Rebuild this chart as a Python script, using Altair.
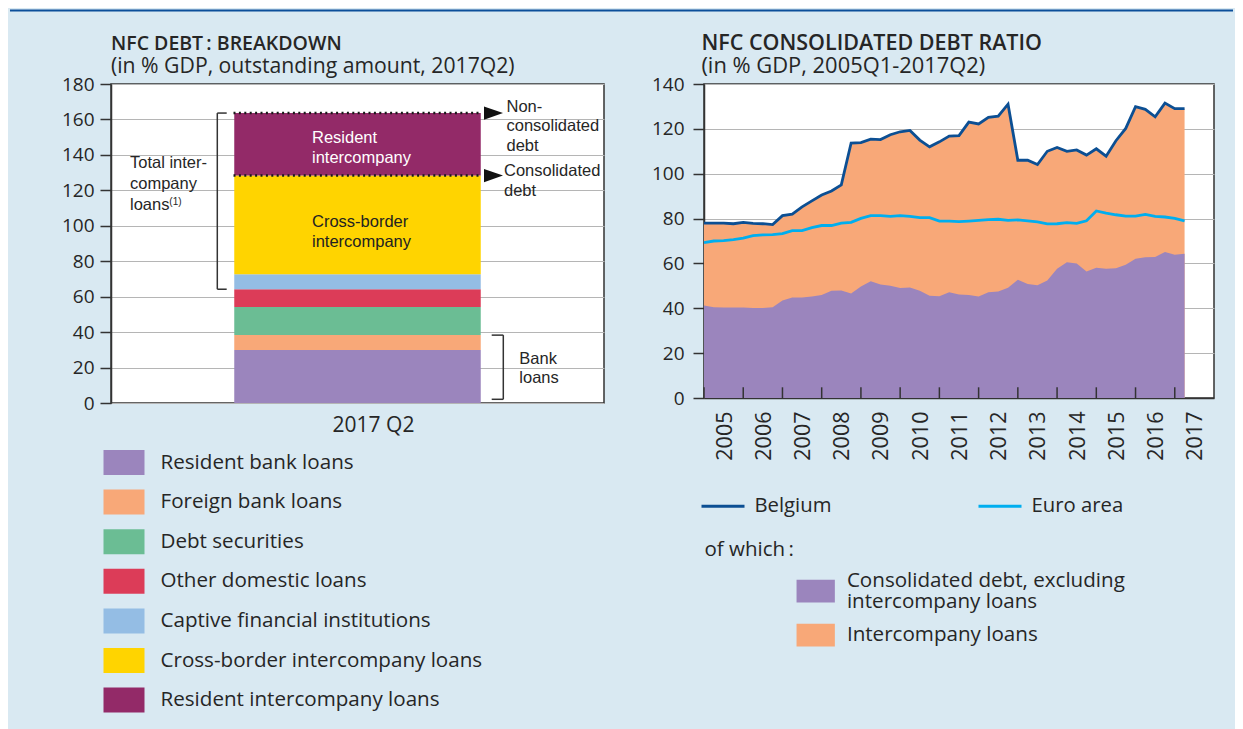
import altair as alt
import pandas as pd
from itertools import accumulate

# ---------------- data: left panel ----------------
components = [
    "Resident bank loans",
    "Foreign bank loans",
    "Debt securities",
    "Other domestic loans",
    "Captive financial institutions",
    "Cross-border intercompany loans",
    "Resident intercompany loans",
]
comp_values = [29.9, 8.4, 15.8, 10.1, 8.5, 55.6, 35.3]
comp_colors = ["#9b85bd", "#f8a878", "#6bbd94", "#dc3c58", "#94bde4", "#ffd400", "#932a68"]
bar_category = "2017 Q2"
left_ticks = [0, 20, 40, 60, 80, 100, 120, 140, 160, 180]

# ---------------- data: right panel ----------------
quarters = [f"{y}Q{q}" for y in range(2005, 2018) for q in (1, 2, 3, 4)][:50]
belgium = [78.0, 78.0, 78.0, 77.7, 78.3, 77.9, 77.7, 77.3, 81.3, 82.0,
           85.2, 87.9, 90.5, 92.3, 95.0, 113.7, 113.9, 115.4, 115.2, 117.4,
           118.7, 119.3, 115.0, 112.0, 114.2, 116.8, 117.0, 123.0, 122.2, 125.1,
           125.7, 131.0, 106.0, 106.0, 104.1, 110.0, 111.7, 110.0, 110.6, 108.3,
           111.1, 107.8, 114.7, 120.2, 129.9, 128.7, 125.4, 131.5, 129.0, 129.0]
euro_area = [69.3, 70.0, 70.2, 70.6, 71.3, 72.4, 72.7, 72.8, 73.3, 74.6,
             74.6, 76.0, 76.9, 76.9, 78.0, 78.3, 80.1, 81.3, 81.3, 81.0,
             81.3, 81.0, 80.4, 80.4, 78.9, 78.9, 78.6, 78.9, 79.2, 79.5,
             79.7, 79.2, 79.4, 79.0, 78.5, 77.6, 77.7, 78.2, 77.9, 79.0,
             83.4, 82.4, 81.7, 81.1, 81.1, 81.9, 81.0, 80.7, 80.1, 79.0]
consolidated_excl = [41.2, 40.5, 40.4, 40.4, 40.4, 40.1, 40.1, 40.5, 43.5, 44.8,
                     44.8, 45.3, 45.9, 47.8, 47.9, 46.6, 49.7, 52.1, 50.6, 50.0,
                     49.0, 49.3, 47.8, 45.6, 45.4, 47.1, 46.2, 45.9, 45.3, 47.1,
                     47.5, 49.2, 52.7, 50.8, 50.3, 52.4, 57.6, 60.5, 60.0, 56.4,
                     58.1, 57.6, 57.9, 59.4, 62.1, 62.7, 62.9, 65.1, 63.9, 64.3]
years = list(range(2005, 2018))
right_ticks = [0, 20, 40, 60, 80, 100, 120, 140]
line_series = ["Belgium", "Euro area"]
line_colors = ["#0c4f93", "#00aeef"]
excl_label = "Consolidated debt, excluding|intercompany loans"
ic_label = "Intercompany loans"
excl_color = "#9b85bd"
ic_color = "#f8a878"

# ---------------- style ----------------
FONT = "Open Sans"
ANN_FONT = "Liberation Sans"
TXT = "#262626"
BG = "#d9e9f2"
W1, H1 = 493, 319
W2, H2 = 510, 314
GAP = 100
ONE = alt.Data(values=[{}])

# ---------------- left panel ----------------
cum = list(accumulate(comp_values))
bar_df = pd.DataFrame({"cat": [bar_category] * len(components), "component": components,
                       "value": comp_values, "order": list(range(len(components)))})
lev_df = pd.DataFrame({"cat": [bar_category] * 2, "level": [cum[6], cum[5]]})
ann_df = pd.DataFrame([{
    "cat": bar_category, "total": cum[6], "cons": cum[5], "bank": cum[1], "ic_low": cum[3],
    "res_mid": (cum[5] + cum[6]) / 2, "cb_mid": (cum[4] + cum[5]) / 2,
    "ic_mid": (cum[3] + cum[6]) / 2, "bank_mid": cum[1] / 2, "zero": 0.0,
}])

yl_scale = alt.Scale(domain=[0, 180], nice=False, zero=True)
yl_axis = alt.Axis(values=left_ticks, title=None, tickSize=11, labelPadding=6, grid=True)
xl = alt.X("cat:N", title=None, scale=alt.Scale(paddingInner=0.5, paddingOuter=0.25),
           axis=alt.Axis(labelAngle=0, ticks=False, tickSize=0, domain=False, grid=False,
                         labelOffset=16, labelPadding=11, labelFontSize=21))

left_legend = alt.Legend(title=None, orient="none", legendX=-7.5, legendY=358,
                         symbolType="M-1,-0.61H1V0.61H-1Z", symbolSize=1681,
                         symbolStrokeWidth=0, symbolOpacity=1, labelOffset=16,
                         rowPadding=5.6, labelFontSize=20.6, labelLimit=1000)

bars = alt.Chart(bar_df).mark_bar().encode(
    x=xl,
    y=alt.Y("value:Q", stack="zero", scale=yl_scale, axis=yl_axis),
    color=alt.Color("component:N", scale=alt.Scale(domain=components, range=comp_colors),
                    legend=left_legend),
    order=alt.Order("order:Q", sort="ascending"),
)

dotted = alt.Chart(lev_df).mark_rule(color="#1a1a1a", strokeWidth=2.5, strokeDash=[2, 3.4],
                                     xOffset=-124, x2Offset=124).encode(
    x="cat:N", x2="cat", y=alt.Y("level:Q", scale=yl_scale, axis=yl_axis))

arrows = alt.Chart(lev_df).mark_point(shape="M-1,-0.7L1,0L-1,0.7Z", size=361, filled=True,
                                      opacity=1, color="#111111", xOffset=136).encode(
    x="cat:N", y=alt.Y("level:Q", scale=yl_scale, axis=yl_axis))


def note(field, lines, dx, dy, color=TXT, size=16.5, lh=19.5, font=ANN_FONT):
    return alt.Chart(ann_df).mark_text(text=lines, align="left", baseline="alphabetic",
                                       dx=dx, dy=dy, color=color, fontSize=size,
                                       lineHeight=lh, font=font).encode(
        x="cat:N", y=alt.Y(f"{field}:Q", scale=yl_scale, axis=yl_axis))


notes = [
    note("total", ["Non-", "consolidated", "debt"], 149, -1.4),
    note("cons", ["Consolidated", "debt"], 146.5, 0.4),
    note("res_mid", ["Resident", "intercompany"], -45.5, -1, color="white", lh=19.8),
    note("cb_mid", ["Cross-border", "intercompany"], -45.5, 2, color="#222222", lh=19.8),
    note("ic_mid", ["Total inter-", "company", "loans"], -227.5, -33, lh=20.8),
    note("ic_mid", ["(1)"], -188.2, 3.5, size=10, lh=10),
    note("bank_mid", ["Bank", "loans"], 161.8, -4.8, lh=18.5),
]


def rule(y, y2=None, xo=0.0, x2o=None, yo=0.0, y2o=0.0):
    kw = dict(color="#333333", strokeWidth=1.5, xOffset=xo, yOffset=yo)
    enc = dict(x="cat:N", y=alt.Y(f"{y}:Q", scale=yl_scale, axis=yl_axis))
    if x2o is not None:
        kw["x2Offset"] = x2o
        enc["x2"] = "cat"
    if y2 is not None:
        kw["y2Offset"] = y2o
        enc["y2"] = y2
    return alt.Chart(ann_df).mark_rule(**kw).encode(**enc)


brackets = [
    rule("ic_low", "total", xo=-140.2),
    rule("total", xo=-140.2, x2o=-130.8),
    rule("ic_low", xo=-140.2, x2o=-130.8),
    rule("bank", "zero", xo=145.8, y2o=-3.7),
    rule("bank", xo=134.2, x2o=145.8),
    rule("zero", xo=134.2, x2o=145.8, yo=-3.7),
]


def heading(title, subtitle, dx, tsize, ssize):
    t1 = alt.Chart(ONE).mark_text(text=title, align="left", baseline="alphabetic", font=FONT,
                                  fontSize=tsize, fontWeight=600, color=TXT).encode(
        x=alt.value(dx), y=alt.value(-34))
    t2 = alt.Chart(ONE).mark_text(text=subtitle, align="left", baseline="alphabetic", font=FONT,
                                  fontSize=ssize, color=TXT).encode(
        x=alt.value(dx), y=alt.value(-11))
    return [t1, t2]


top_line = alt.Chart(ONE).mark_rule(color="#0b4f9a", strokeWidth=2).encode(
    x=alt.value(-101), x2=alt.value(1122), y=alt.value(-73.5))
bottom_edge = alt.Chart(ONE).mark_rule(color=BG, strokeWidth=1).encode(
    x=alt.value(0), x2=alt.value(20), y=alt.value(644.5))

left = alt.layer(
    bars, dotted, arrows, *notes, *brackets,
    *heading("NFC DEBT\u2009: BREAKDOWN", "(in % GDP, outstanding amount, 2017Q2)", 0, 19.5, 21.2),
    top_line, bottom_edge,
).properties(width=W1, height=H1)

# ---------------- right panel ----------------
t_vals = [int(q[:4]) + (int(q[-1]) - 1) / 4 for q in quarters]
ts_df = pd.DataFrame({"t": t_vals, "belgium": belgium, "excl": consolidated_excl})
lines_df = pd.DataFrame({
    "t": t_vals * 2,
    "value": belgium + euro_area,
    "series": ["Belgium"] * len(belgium) + ["Euro area"] * len(euro_area),
})
years_df = pd.DataFrame({"year": years})

xr_scale = alt.Scale(domain=[2005, 2018], nice=False, zero=False)
xr_axis = alt.Axis(values=years, title=None, grid=False, ticks=False, tickSize=0,
                   labelAngle=270, labelAlign="right", labelBaseline="middle",
                   labelOffset=21, labelPadding=13, labelFontSize=21.5, format="d")
yr_scale = alt.Scale(domain=[0, 140], nice=False, zero=True)
yr_axis = alt.Axis(values=right_ticks, title=None, tickSize=11, labelPadding=9, grid=True)

# legends of the right panel are positioned relative to the right panel's plot area
excl_legend = alt.Legend(
    title="of which\u2009:", orient="none", legendX=0.5, legendY=455.8,
    direction="vertical", titleFont=FONT, titleFontSize=20.5,
    titleFontWeight="normal", titleColor=TXT, titleAnchor="start",
    titlePadding=0.8, symbolOffset=91.7, labelOffset=11.7,
    symbolType="M-1,-0.045H1V1.141H-1Z",
    symbolSize=1467, symbolStrokeWidth=0, symbolOpacity=1,
    labelExpr="split(datum.label, '|')", labelFontSize=20.6, labelLimit=1000)
ic_legend = alt.Legend(
    title=None, orient="none", legendX=0.5, legendY=531.6,
    direction="vertical", symbolOffset=91.7, labelOffset=11.7,
    symbolType="M-1,-0.593H1V0.593H-1Z",
    symbolSize=1467, symbolStrokeWidth=0, symbolOpacity=1,
    labelFontSize=20.6, labelLimit=1000)
stroke_legend = alt.Legend(title=None, orient="none", legendX=-4, legendY=398.9,
                           direction="horizontal", columns=2, columnPadding=140,
                           symbolType="stroke", symbolSize=1849, symbolStrokeWidth=3,
                           labelOffset=8.5, labelFontSize=20.3, labelLimit=1000)

area_ic = alt.Chart(ts_df).transform_calculate(
    part=f"'{ic_label}'"
).mark_area(opacity=1).encode(
    x=alt.X("t:Q", scale=xr_scale, axis=xr_axis),
    y=alt.Y("belgium:Q", scale=yr_scale, axis=yr_axis),
    fill=alt.Fill("part:N", scale=alt.Scale(domain=[ic_label], range=[ic_color]),
                  legend=ic_legend),
)
area_ex = alt.Chart(ts_df).transform_calculate(
    part=f"'{excl_label}'"
).mark_area(opacity=1).encode(
    x=alt.X("t:Q", scale=xr_scale, axis=xr_axis),
    y=alt.Y("excl:Q", scale=yr_scale, axis=yr_axis),
    color=alt.Color("part:N", scale=alt.Scale(domain=[excl_label], range=[excl_color]),
                    legend=excl_legend),
)
lines = alt.Chart(lines_df).mark_line(strokeWidth=2.8).encode(
    x=alt.X("t:Q", scale=xr_scale, axis=xr_axis),
    y=alt.Y("value:Q", scale=yr_scale, axis=yr_axis),
    stroke=alt.Stroke("series:N", scale=alt.Scale(domain=line_series, range=line_colors),
                      legend=stroke_legend),
)
inner_ticks = alt.Chart(years_df).mark_rule(color="#333333", strokeWidth=1.5).encode(
    x=alt.X("year:Q", scale=xr_scale, axis=xr_axis),
    y=alt.value(H2), y2=alt.value(H2 - 10.7),
)

right = alt.layer(
    area_ic, area_ex, lines, inner_ticks,
    *heading("NFC CONSOLIDATED DEBT RATIO", "(in % GDP, 2005Q1-2017Q2)", -2.6, 21.5, 21.9),
).properties(width=W2, height=H2)

chart = alt.hconcat(left, right, spacing=GAP, bounds="flush", padding=0).resolve_scale(
    color="independent", fill="independent", stroke="independent",
).resolve_legend(
    color="independent", fill="independent", stroke="independent",
).configure(
    background=BG, font=FONT, style={"guide-label": {"lineHeight": 21}},
).configure_view(
    fill="white", stroke="#333333", strokeWidth=1.5,
).configure_axis(
    domainColor="#333333", domainWidth=1.5, gridColor="#b5b5b5", gridWidth=1.2,
    tickColor="#333333", tickWidth=1.5, labelFont=FONT, labelColor=TXT, labelFontSize=19,
).configure_legend(
    padding=0, labelFont=FONT, labelColor=TXT,
)

chart.save("out.html", embed_options={"renderer": "svg", "actions": False})
